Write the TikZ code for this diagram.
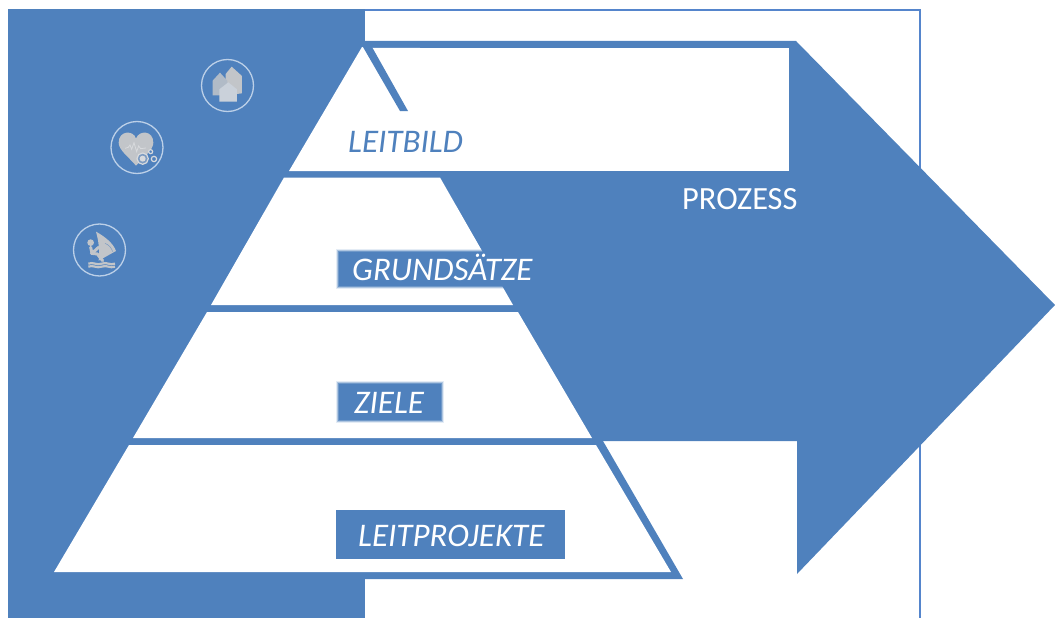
\documentclass[tikz,border=0pt]{standalone}
\usepackage{fontspec}
\setmainfont{Carlito}
\definecolor{pblue}{HTML}{4F81BD}
\definecolor{fblue}{HTML}{5585CC}
\definecolor{ring}{HTML}{BCD0E8}
\definecolor{igrey}{HTML}{C2C5C9}
\definecolor{ilight}{HTML}{D8DADD}
\tikzset{
  blueshape/.style={fill=pblue,draw=none},
  whiteshape/.style={fill=white,draw=none},
  iconring/.style={draw=ring,line width=1.3pt,fill=none,circle,minimum size=52pt,inner sep=0pt},
  labeltext/.style={font=\fontsize{33}{35}\selectfont\itshape,inner sep=0pt,anchor=base west}
}
\newcommand{\softbox}[4]{%
  \fill[pblue,opacity=0.15] (#1-2.5,#2-2.5) rectangle (#3+2.5,#4+2.5);
  \fill[pblue,opacity=0.35] (#1-1.5,#2-1.5) rectangle (#3+1.5,#4+1.5);
  \fill[pblue,opacity=0.65] (#1-0.5,#2-0.5) rectangle (#3+0.5,#4+0.5);
  \fill[pblue] (#1+0.5,#2+0.5) rectangle (#3-0.5,#4-0.5);
}
\begin{document}
\begin{tikzpicture}[x=1pt,y=-1pt]
\useasboundingbox (0,0) rectangle (1055,618);
% frame
\draw[fblue,line width=2.2pt] (365,10.2) -- (920,10.2) -- (920,618);
% left panel
\fill[blueshape] (8,9) rectangle (365,618);
% arrow
\fill[blueshape] (365,41) -- (796,41) -- (1055,305) -- (797,574) -- (797,441) -- (365,441) -- cycle;
% window in the arrow
\fill[whiteshape] (370,48) rectangle (789,171);
% pyramid outline, lower right
\fill[blueshape] (603,441) -- (683,579) -- (365,579) -- (365,441) -- cycle;
% pyramid layers
\fill[whiteshape] (362,47) -- (372,48) -- (420,48) -- (420,171) -- (289,171) -- cycle;
\fill[whiteshape] (284,177.5) -- (440,177.5) -- (513,305) -- (211,305) -- cycle;
\fill[whiteshape] (207,312) -- (518,312) -- (592,438) -- (133,438) -- cycle;
\fill[whiteshape] (129,445) -- (596,445) -- (671,572) -- (54,572) -- cycle;
% apex stroke
\fill[blueshape] (363,47) -- (372,47) -- (408,111) -- (400,111) -- cycle;
% label boxes
\softbox{338}{251}{505}{286}
\softbox{338}{383}{441}{420}
\fill[pblue] (336,510) rectangle (565,559);
% labels
\node[labeltext,text=pblue] (leitbild) at (348,152.5) {LEITBILD};
\node[labeltext,text=white] (grund) at (352,280.5) {GRUNDSÄTZE};
\node[labeltext,text=white] (ziele) at (354,413.5) {ZIELE};
\node[labeltext,text=white] (leitproj) at (358,546.5) {LEITPROJEKTE};
\node[font=\fontsize{32.4}{34}\selectfont,text=white,inner sep=0pt,anchor=base west] (prozess) at (682,209.5) {PROZESS};
% icon rings
\node[iconring] (icona) at (227.5,85.5) {};
\node[iconring] (iconb) at (137,147.5) {};
\node[iconring] (iconc) at (99.5,250) {};
% icon drawings, in 3x crop coordinates
\begin{scope}[shift={(60,50)},x=0.3333pt,y=-0.3333pt]
  % houses
  \fill[igrey] (497,72) -- (515,50) -- (546,78) -- (546,130) -- (497,136) -- cycle;
  \fill[igrey!85!pblue] (458,92) -- (480,68) -- (502,92) -- (502,136) -- (458,136) -- cycle;
  \fill[ilight!90!pblue] (478,118) -- (505,97) -- (531,118) -- (531,155) -- (478,155) -- cycle;
  % heart
  \fill[igrey] (228,347) .. controls (205,320) and (176,300) .. (176,278)
     .. controls (176,240) and (222,240) .. (228,266)
     .. controls (236,240) and (280,240) .. (280,278)
     .. controls (280,300) and (252,320) .. (228,347) -- cycle;
  \draw[ilight,line width=0.8pt] (195,295) -- (205,292) -- (210,285) -- (215,298) -- (222,278) -- (230,305) -- (236,288) -- (242,296) -- (258,294);
  \draw[ilight,line width=1.2pt,fill=igrey!40!pblue] (248,326) circle[radius=17];
  \fill[ilight] (248,326) circle[radius=9];
  \draw[ilight,line width=1.2pt,fill=pblue] (272,305) circle[radius=6];
  \draw[ilight,line width=1.2pt,fill=pblue] (282,327) circle[radius=8];
  % windsurfer
  \fill[igrey] (108,545) .. controls (135,560) and (160,580) .. (168,603)
     -- (116,632) .. controls (120,600) and (115,570) .. (108,545) -- cycle;
  \draw[pblue!60!igrey,line width=0.5pt] (135,580) .. controls (148,585) and (155,595) .. (158,605);
  \fill[igrey] (92,578) circle[radius=10];
  \draw[igrey,line width=3pt,line cap=round,line join=round] (116,592) -- (96,610) -- (92,592);
  \draw[igrey,line width=3pt,line cap=round,line join=round] (94,610) -- (112,612) -- (128,632);
  \draw[igrey,line width=2.2pt] (85,641) .. controls (100,635) and (110,647) .. (125,641) .. controls (140,635) and (150,647) .. (165,641);
  \draw[igrey,line width=2.2pt] (85,650) .. controls (100,644) and (110,656) .. (125,650) .. controls (140,644) and (150,656) .. (165,650);
\end{scope}
\end{tikzpicture}
\end{document}
